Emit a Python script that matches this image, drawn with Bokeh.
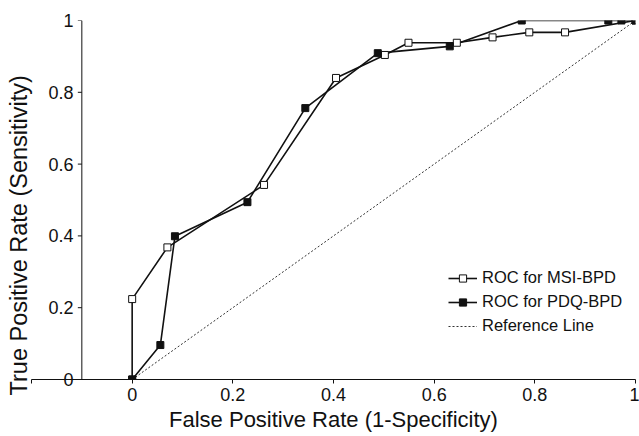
import numpy as np
from bokeh.plotting import figure
from bokeh.models import (Range1d, FixedTicker, NumeralTickFormatter, Legend,
                          LegendItem, Title, ColumnDataSource, Span)
from bokeh.embed import file_html
from bokeh.resources import INLINE

# ---- data ----
msi_fpr = [0.0, 0.0, 0.070, 0.262, 0.405, 0.502, 0.549, 0.645, 0.716, 0.789, 0.860, 1.0]
msi_tpr = [0.0, 0.224, 0.368, 0.542, 0.840, 0.904, 0.938, 0.938, 0.953, 0.967, 0.967, 1.0]

pdq_fpr = [0.0, 0.056, 0.085, 0.229, 0.344, 0.488, 0.631, 0.774, 0.946, 0.972, 1.0]
pdq_tpr = [0.0, 0.096, 0.399, 0.494, 0.756, 0.909, 0.928, 1.0, 1.0, 1.0, 1.0]

ref_x = [0.0, 1.0]
ref_y = [0.0, 1.0]

x_ticks = [-0.2, 0.0, 0.2, 0.4, 0.6, 0.8, 1.0]
y_ticks = [0.0, 0.2, 0.4, 0.6, 0.8, 1.0]
y_axis_at = -0.1

series_labels = ["ROC for MSI-BPD", "ROC for PDQ-BPD", "Reference Line"]
x_title = "False Positive Rate (1-Specificity)"
y_title = "True Positive Rate (Sensitivity)"

FONT = "Liberation Sans"
INK = "#111111"

p = figure(width=639, height=436, output_backend="svg", toolbar_location=None,
           x_range=Range1d(-0.2, 1.0), y_range=Range1d(0.0, 1.0),
           min_border_left=31, min_border_right=4, min_border_top=20,
           min_border_bottom=57, title=None)
p.outline_line_color = None
p.grid.visible = False
p.background_fill_color = "white"
p.border_fill_color = "white"

# x axis
xa = p.xaxis[0]
xa.ticker = FixedTicker(ticks=x_ticks)
xa.formatter = NumeralTickFormatter(format="0.[0]")
xa.major_label_overrides = {-0.2: ""}
xa.axis_label = x_title
xa.axis_label_text_font = FONT
xa.axis_label_text_font_size = "22px"
xa.axis_label_text_font_style = "normal"
xa.axis_label_text_color = INK
xa.axis_label_standoff = 3
xa.major_label_text_font = FONT
xa.major_label_text_font_size = "18px"
xa.major_label_text_color = INK
xa.major_label_standoff = 4
xa.major_tick_out = 4
xa.major_tick_in = 0
xa.minor_tick_line_color = None
xa.axis_line_color = INK
xa.major_tick_line_color = INK

# y axis: labels come from the axis, shifted right so that they sit next to
# the rule drawn at x = -0.1
ya = p.yaxis[0]
ya.ticker = FixedTicker(ticks=y_ticks)
ya.formatter = NumeralTickFormatter(format="0.[0]")
ya.axis_line_color = None
ya.major_tick_line_color = None
ya.minor_tick_line_color = None
ya.major_tick_out = 0
ya.major_tick_in = 0
ya.major_label_standoff = -42
ya.major_label_text_font = FONT
ya.major_label_text_font_size = "18px"
ya.major_label_text_color = INK

p.add_layout(Span(location=y_axis_at, dimension="height", line_color=INK,
                  line_width=1))
ytick_src = ColumnDataSource(dict(x=[y_axis_at] * len(y_ticks), y=y_ticks))
p.ray(x="x", y="y", source=ytick_src, length=4, length_units="screen",
      angle=np.pi, line_color=INK, line_width=1)

p.add_layout(Title(text=y_title, align="left", offset=-16, standoff=0,
                   text_font=FONT, text_font_size="23.5px",
                   text_font_style="normal", text_color=INK), "left")

msi_src = ColumnDataSource(dict(x=msi_fpr, y=msi_tpr))
pdq_src = ColumnDataSource(dict(x=pdq_fpr, y=pdq_tpr))
ref_src = ColumnDataSource(dict(x=ref_x, y=ref_y))

ref_line = p.line("x", "y", source=ref_src, line_color="#333333", line_width=1,
                  line_dash="2 2")
msi_line = p.line("x", "y", source=msi_src, line_color=INK, line_width=1.6)
pdq_line = p.line("x", "y", source=pdq_src, line_color=INK, line_width=1.6)
msi_pts = p.scatter("x", "y", source=msi_src, marker="square", size=7,
                    fill_color="white", line_color=INK, line_width=1)
pdq_pts = p.scatter("x", "y", source=pdq_src, marker="square", size=7,
                    fill_color=INK, line_color=INK, line_width=1)

legend = Legend(items=[
    LegendItem(label=series_labels[0], renderers=[msi_line, msi_pts]),
    LegendItem(label=series_labels[1], renderers=[pdq_line, pdq_pts]),
    LegendItem(label=series_labels[2], renderers=[ref_line]),
], location=(417, 44))
legend.label_text_font = FONT
legend.label_text_font_size = "16.5px"
legend.label_text_color = INK
legend.label_standoff = 5
legend.glyph_width = 29
legend.glyph_height = 18
legend.label_height = 18
legend.spacing = 5
legend.padding = 0
legend.margin = 0
legend.border_line_color = None
legend.background_fill_alpha = 0
p.add_layout(legend, "center")

open("out.html", "w").write(file_html(p, INLINE))
